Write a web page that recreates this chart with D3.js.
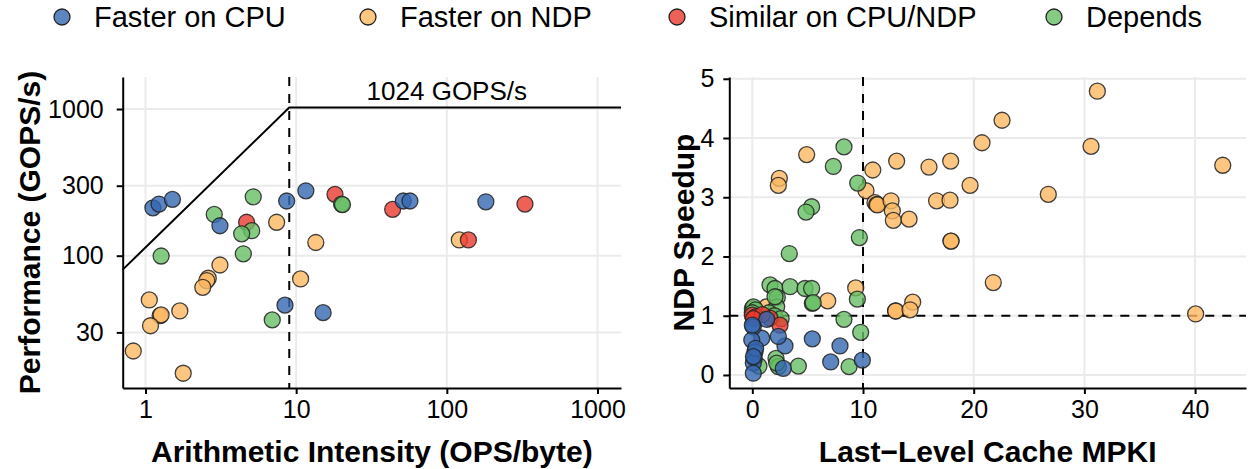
<!DOCTYPE html>
<html><head><meta charset="utf-8">
<script src="https://cdn.jsdelivr.net/npm/d3@7"></script>
<style>body{margin:0;background:#fff}svg{display:block;font-family:"Liberation Sans",Arial,sans-serif}</style>
</head><body><svg id="c" width="1249" height="469"></svg>
<script>
// ---------- data ----------
const categories = ["Faster on CPU","Faster on NDP","Similar on CPU/NDP","Depends"];
const colors = ["#3466B0","#FDB862","#EA3A2E","#68BE65"];
// Left panel: roofline (arithmetic intensity, GOPS/s)
const roofCpuAI   = [1.12,1.23,1.51,3.12,8.65,11.6,8.43,15.1,51.4,56.9,181.6];
const roofCpuPerf = [212,225,242,160,236,277,46,40.9,236,236,233];
const roofNdpAI   = [7.42,13.5,10.7,3.12,2.61,2.55,2.40,1.06,1.25,1.27,1.69,1.08,0.83,1.78,121];
const roofNdpPerf = [169,123,69.4,86.4,70.2,67.7,60.9,49.9,39,39.5,42.0,33.3,22.4,15.8,128];
const roofSimAI   = [4.69,18.1,43.7,139,330];
const roofSimPerf = [169,262,207,128,225];
const roofDepAI   = [5.19,2.86,5.07,4.35,4.46,1.27,6.94,20.0,20.3];
const roofDepPerf = [252,191,148,141,103,99.5,36.5,225,223];
const peakPerf = 1024, ridgeAI = 9;
const roofXTicks = [1,10,100,1000];
const roofYTicks = [30,100,300,1000];
// Right panel: LLC MPKI vs NDP speedup
const mpkiCpu   = [5.42,7.92,7.08,9.94,2.95,2.35,2.80,0.85,1.30,0.09,-0.05,0.24,0.18,0.09,0.09,0.30,0.10,0.0];
const spCpu     = [0.61,0.49,0.22,0.25,0.49,0.65,0.11,0.62,0.94,0.81,0.59,0.39,0.28,0.20,0.03,0.45,0.31,0.84];
const mpkiNdp   = [4.91,2.44,2.35,10.88,13.04,10.27,11.08,11.24,11.3,12.53,12.65,12.74,14.16,15.96,17.92,16.65,17.86,19.67,17.95,17.95,6.81,9.34,12.95,12.95,14.49,14.25,1.30,22.56,20.75,31.17,30.6,26.74,42.5,21.77,40.05];
const spNdp     = [3.72,3.32,3.20,3.46,3.61,3.11,2.91,2.88,2.87,2.94,2.77,2.61,2.63,3.51,3.61,2.94,2.95,3.20,2.26,2.26,1.25,1.47,1.08,1.08,1.23,1.10,1.15,4.30,3.92,4.79,3.86,3.05,3.54,1.56,1.03];
const mpkiSim   = [0.0,0.3,1.6,2.5,0.9,0.1];
const spSim     = [1.01,0.98,0.96,0.84,1.02,0.95];
const mpkiDep   = [8.28,7.32,9.52,5.36,4.85,9.67,3.34,1.60,2.05,2.26,3.41,4.76,5.36,5.42,5.5,9.49,8.28,9.79,4.16,8.74,2.14,2.35,2.2,2.05,0.0,0.1,0.3,0.0,1.5,2.0,2.6,2.2,0.6];
const spDep     = [3.85,3.52,3.24,2.84,2.75,2.32,2.05,1.52,1.46,1.31,1.49,1.46,1.46,1.21,1.22,1.28,0.94,0.72,0.15,0.14,0.28,0.14,1.15,1.32,1.12,1.15,1.10,1.05,1.05,1.0,0.95,0.2,0.15];
const mpkiXTicks = [0,10,20,30,40];
const spYTicks = [0,1,2,3,4,5];

// ---------- drawing ----------
const svg = d3.select("#c");
const pTop = 77, pBottom = 388;
const grid = "#EBEBEB";
const R = 8;

function zipPts(xs, ys, ci){ return xs.map((x,i)=>({x, y:ys[i], c:ci})); }

function drawPanel(g, x, y, xTicks, yTicks, xFmt, yFmt, yPad){
  const [x0,x1] = x.range();
  g.append("g").selectAll("line").data(xTicks).join("line")
    .attr("x1",d=>x(d)).attr("x2",d=>x(d)).attr("y1",pTop).attr("y2",pBottom)
    .attr("stroke",grid).attr("stroke-width",2);
  g.append("g").selectAll("line").data(yTicks).join("line")
    .attr("x1",x0).attr("x2",x1).attr("y1",d=>y(d)).attr("y2",d=>y(d))
    .attr("stroke",grid).attr("stroke-width",2);
  const xa = g.append("g").attr("transform",`translate(0,${pBottom})`)
    .call(d3.axisBottom(x).tickValues(xTicks).tickFormat(xFmt).tickSize(6).tickPadding(6).tickSizeOuter(0));
  const ya = g.append("g").attr("transform",`translate(${x0},0)`)
    .call(d3.axisLeft(y).tickValues(yTicks).tickFormat(yFmt).tickSize(6).tickPadding(yPad).tickSizeOuter(0));
  [xa,ya].forEach(a=>{
    a.select(".domain").attr("stroke","#000").attr("stroke-width",2);
    a.selectAll(".tick line").attr("stroke","#000").attr("stroke-width",2);
    a.selectAll(".tick text").attr("fill","#000").style("font-size","25px").style("font-family","Liberation Sans, Arial, sans-serif");
  });
}

function drawPoints(g, x, y, pts){
  g.append("g").selectAll("circle").data(pts).join("circle")
    .attr("cx",d=>x(d.x)).attr("cy",d=>y(d.y)).attr("r",R)
    .attr("fill",d=>colors[d.c]).attr("fill-opacity",0.8)
    .attr("stroke","#222").attr("stroke-opacity",0.85).attr("stroke-width",1.3);
}

// Left panel
const xL = d3.scaleLog().domain([0.706,1432]).range([122.7,621]);
const yL = d3.scaleLog().domain([12.53,1653]).range([pBottom,pTop]);
const gL = svg.append("g");
drawPanel(gL, xL, yL, roofXTicks, roofYTicks, d3.format("d"), d3.format("d"), 13);
const xMin = xL.domain()[0], xMax = xL.domain()[1];
gL.append("path").attr("fill","none").attr("stroke","#000").attr("stroke-width",2)
  .attr("d", d3.line().x(d=>xL(d[0])).y(d=>yL(d[1]))([[xMin, peakPerf/ridgeAI*xMin],[ridgeAI,peakPerf],[xMax,peakPerf]]));
gL.append("line").attr("x1",xL(ridgeAI)).attr("x2",xL(ridgeAI)).attr("y1",pTop).attr("y2",pBottom)
  .attr("stroke","#000").attr("stroke-width",2).attr("stroke-dasharray","9,8");
gL.append("text").attr("x",xL(100)).attr("y",yL(peakPerf)-8).attr("text-anchor","middle")
  .style("font-size","26px").text(peakPerf+" GOPS/s");
const ptsL = [].concat(
  zipPts(roofNdpAI,roofNdpPerf,1), zipPts(roofSimAI,roofSimPerf,2),
  zipPts(roofDepAI,roofDepPerf,3), zipPts(roofCpuAI,roofCpuPerf,0));
drawPoints(gL, xL, yL, ptsL);
gL.append("text").attr("x",(122.7+621)/2).attr("y",462).attr("text-anchor","middle")
  .style("font-size","30px").style("font-weight","bold").text("Arithmetic Intensity (OPS/byte)");
gL.append("text").attr("transform",`translate(40,${(pTop+pBottom)/2}) rotate(-90)`).attr("text-anchor","middle")
  .style("font-size","30px").style("font-weight","bold").text("Performance (GOPS/s)");

// Right panel
const xR = d3.scaleLinear().domain([-2.08,44.6]).range([729.3,1246]);
const yR = d3.scaleLinear().domain([-0.22,5.03]).range([pBottom,pTop]);
const gR = svg.append("g");
drawPanel(gR, xR, yR, mpkiXTicks, spYTicks, d3.format("d"), d3.format("d"), 9);
gR.append("line").attr("x1",xR(10)).attr("x2",xR(10)).attr("y1",pTop).attr("y2",pBottom)
  .attr("stroke","#000").attr("stroke-width",2).attr("stroke-dasharray","9,8");
gR.append("line").attr("x1",xR.range()[0]).attr("x2",xR.range()[1]).attr("y1",yR(1)).attr("y2",yR(1))
  .attr("stroke","#000").attr("stroke-width",2).attr("stroke-dasharray","9,8");
const ptsR = [].concat(
  zipPts(mpkiNdp,spNdp,1), zipPts(mpkiDep,spDep,3), zipPts(mpkiSim,spSim,2), zipPts(mpkiCpu,spCpu,0));
drawPoints(gR, xR, yR, ptsR);
gR.append("text").attr("x",(729.3+1246)/2).attr("y",462).attr("text-anchor","middle")
  .style("font-size","30px").style("font-weight","bold").text("Last\u2212Level Cache MPKI");
gR.append("text").attr("transform",`translate(694,${(pTop+pBottom)/2}) rotate(-90)`).attr("text-anchor","middle")
  .style("font-size","30px").style("font-weight","bold").text("NDP Speedup");

// Legend
const legX = [62,368,677,1054];
const lg = svg.append("g");
categories.forEach((c,i)=>{
  lg.append("circle").attr("cx",legX[i]).attr("cy",17).attr("r",R)
    .attr("fill",colors[i]).attr("fill-opacity",0.8).attr("stroke","#222").attr("stroke-width",1.3);
  lg.append("text").attr("x",legX[i]+32).attr("y",27).style("font-size","29px").text(c);
});
</script></body></html>
